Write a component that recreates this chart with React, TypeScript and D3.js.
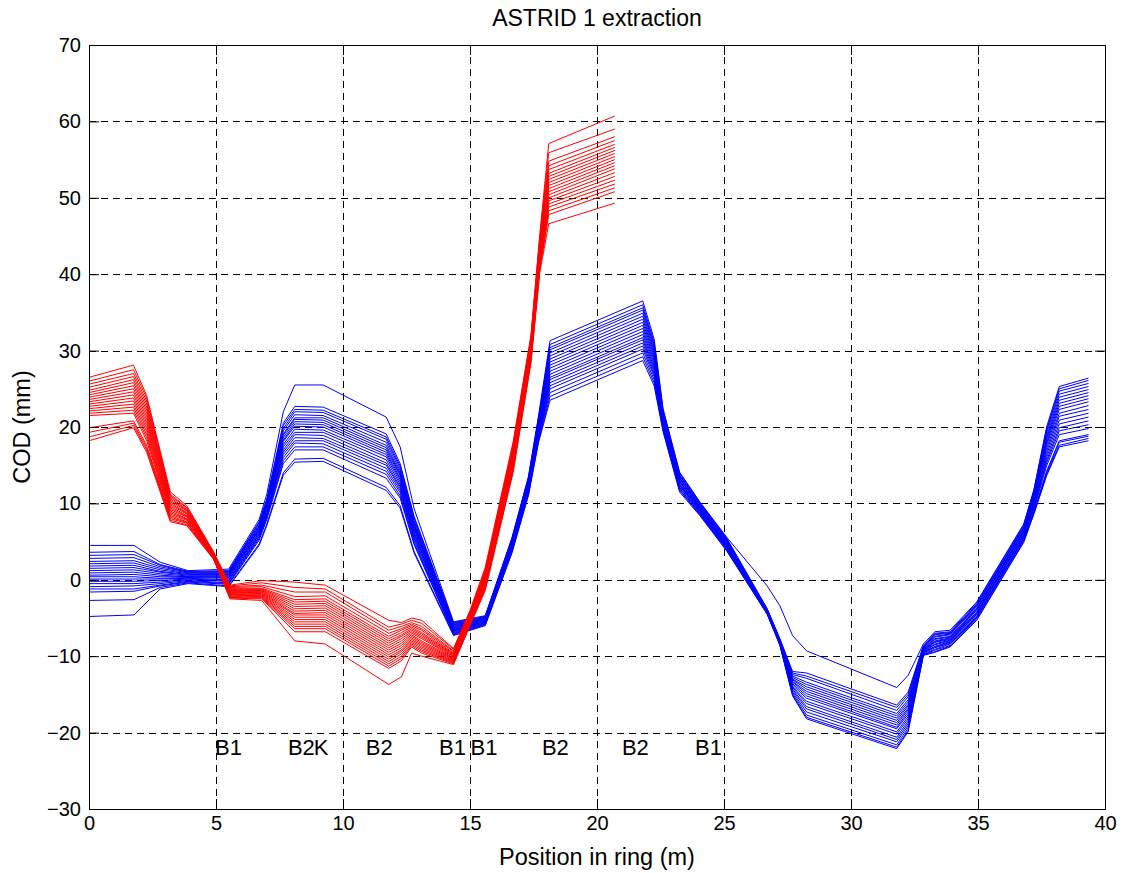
import React, { useRef, useEffect } from "react";
import * as d3 from "d3";

// positions (m) where the blue traces bend
const blueX = [0, 1.77, 2.8, 3.9, 5.5, 6.7, 7.0, 7.65, 8.1, 9.22, 11.7, 12.25, 12.8, 14.35, 15.6, 16.65, 17.3, 17.7, 18.15, 21.8, 22.25, 22.6, 23.25, 24.05, 25.1, 26.7, 27.2, 27.7, 28.25, 31.8, 32.25, 32.85, 33.3, 33.9, 34.95, 36.8, 37.2, 37.7, 38.2, 39.35];

// one row per position, one value per trace (COD in mm)
const blueCols = [
  [-4.8, -2.7, -1.6, -1.2, -0.9, -0.5, -0.2, 0.1, 0.4, 0.6, 0.9, 1.2, 1.5, 1.8, 2.1, 2.4, 2.8, 3.2, 3.6, 4.5],
  [-4.6, -2.6, -1.5, -1.2, -0.8, -0.5, -0.2, 0.1, 0.4, 0.7, 1.0, 1.3, 1.6, 1.9, 2.2, 2.5, 2.9, 3.3, 3.7, 4.5],
  [-1.2, -1.0, -0.8, -0.7, -0.5, -0.3, -0.1, 0.1, 0.2, 0.4, 0.6, 0.8, 1.0, 1.1, 1.3, 1.5, 1.7, 1.9, 2.0, 2.3],
  [-0.5, -0.4, -0.3, -0.2, -0.1, 0.0, 0.1, 0.2, 0.3, 0.4, 0.4, 0.5, 0.6, 0.7, 0.8, 0.9, 1.0, 1.0, 1.1, 1.2],
  [-0.9, -0.8, -0.6, -0.5, -0.4, -0.2, -0.1, 0.0, 0.2, 0.3, 0.4, 0.5, 0.6, 0.7, 0.8, 0.9, 1.0, 1.1, 1.2, 1.4],
  [4.5, 4.7, 5.2, 5.4, 5.6, 5.7, 5.9, 6.0, 6.2, 6.3, 6.5, 6.6, 6.7, 6.9, 7.0, 7.1, 7.3, 7.5, 7.6, 7.9],
  [7.1, 7.3, 7.9, 8.1, 8.3, 8.5, 8.6, 8.8, 9.0, 9.2, 9.3, 9.5, 9.6, 9.8, 9.9, 10.1, 10.3, 10.4, 10.6, 11.2],
  [13.7, 14.0, 15.2, 15.6, 16.0, 16.4, 16.7, 17.0, 17.4, 17.7, 18.1, 18.3, 18.6, 18.9, 19.1, 19.5, 19.8, 20.2, 20.5, 22.0],
  [15.4, 15.8, 17.0, 17.4, 17.9, 18.2, 18.6, 19.0, 19.3, 19.7, 20.1, 20.4, 20.7, 21.0, 21.2, 21.6, 22.0, 22.3, 22.7, 25.5],
  [15.5, 15.9, 17.0, 17.4, 17.8, 18.2, 18.5, 18.9, 19.3, 19.6, 20.0, 20.3, 20.6, 20.9, 21.2, 21.5, 21.9, 22.2, 22.6, 25.5],
  [11.7, 12.1, 13.3, 13.8, 14.2, 14.6, 15.0, 15.3, 15.7, 16.1, 16.4, 16.7, 17.0, 17.3, 17.6, 18.0, 18.4, 18.7, 19.1, 21.3],
  [9.4, 9.7, 10.7, 11.0, 11.4, 11.7, 12.0, 12.2, 12.5, 12.8, 13.1, 13.3, 13.6, 13.8, 14.0, 14.3, 14.6, 14.9, 15.2, 17.4],
  [3.5, 3.7, 4.6, 4.8, 5.1, 5.4, 5.6, 5.9, 6.1, 6.3, 6.6, 6.8, 7.0, 7.2, 7.3, 7.6, 7.8, 8.1, 8.3, 9.3],
  [-7.3, -7.2, -7.1, -7.0, -6.9, -6.8, -6.7, -6.6, -6.6, -6.5, -6.4, -6.3, -6.2, -6.1, -6.0, -5.9, -5.8, -5.7, -5.6, -5.5],
  [-6.0, -5.9, -5.8, -5.8, -5.7, -5.6, -5.6, -5.5, -5.4, -5.4, -5.3, -5.2, -5.2, -5.1, -5.0, -5.0, -4.9, -4.8, -4.8, -4.7],
  [3.5, 3.6, 3.8, 3.9, 4.0, 4.1, 4.2, 4.3, 4.4, 4.5, 4.6, 4.7, 4.8, 4.9, 5.0, 5.1, 5.2, 5.3, 5.4, 5.5],
  [11.0, 11.2, 11.3, 11.5, 11.6, 11.7, 11.9, 12.0, 12.1, 12.2, 12.4, 12.5, 12.6, 12.7, 12.9, 13.0, 13.1, 13.2, 13.4, 13.5],
  [18.0, 18.2, 18.5, 18.7, 18.8, 19.0, 19.2, 19.4, 19.5, 19.7, 19.9, 20.1, 20.2, 20.4, 20.6, 20.8, 20.9, 21.1, 21.3, 21.5],
  [23.5, 24.0, 24.5, 25.0, 25.4, 25.8, 26.2, 26.5, 26.9, 27.3, 27.7, 28.1, 28.5, 28.9, 29.3, 29.7, 30.1, 30.4, 30.8, 31.3],
  [28.7, 29.2, 29.7, 30.2, 30.6, 31.0, 31.4, 31.7, 32.1, 32.5, 32.9, 33.3, 33.7, 34.1, 34.5, 34.9, 35.3, 35.6, 36.0, 36.5],
  [25.4, 25.8, 26.2, 26.6, 26.9, 27.2, 27.5, 27.8, 28.1, 28.4, 28.7, 29.0, 29.3, 29.6, 29.9, 30.2, 30.5, 30.8, 31.1, 31.5],
  [19.4, 19.6, 19.8, 20.0, 20.1, 20.3, 20.4, 20.6, 20.7, 20.9, 21.0, 21.2, 21.3, 21.5, 21.6, 21.8, 21.9, 22.1, 22.2, 22.4],
  [11.5, 11.7, 11.8, 12.0, 12.1, 12.3, 12.4, 12.5, 12.6, 12.8, 12.9, 13.0, 13.2, 13.3, 13.4, 13.6, 13.7, 13.8, 14.0, 14.1],
  [8.4, 8.5, 8.6, 8.7, 8.8, 8.9, 9.0, 9.1, 9.2, 9.3, 9.3, 9.4, 9.5, 9.6, 9.7, 9.8, 9.9, 10.0, 10.1, 10.2],
  [3.8, 3.9, 4.0, 4.1, 4.2, 4.3, 4.4, 4.5, 4.5, 4.6, 4.7, 4.8, 4.9, 5.0, 5.1, 5.2, 5.3, 5.4, 5.5, 5.6],
  [-4.5, -4.5, -4.4, -4.4, -4.3, -4.3, -4.3, -4.2, -4.2, -4.2, -4.1, -4.1, -4.1, -4.0, -4.0, -3.9, -3.9, -3.8, -3.8, -0.8],
  [-8.6, -8.5, -8.5, -8.4, -8.4, -8.3, -8.3, -8.2, -8.2, -8.2, -8.1, -8.1, -8.0, -8.0, -7.9, -7.9, -7.8, -7.8, -7.7, -3.4],
  [-15.2, -15.1, -14.9, -14.7, -14.5, -14.3, -14.1, -14.0, -13.8, -13.6, -13.4, -13.3, -13.1, -13.0, -12.8, -12.6, -12.4, -12.2, -12.0, -7.3],
  [-18.2, -18.0, -17.7, -17.3, -16.9, -16.6, -16.2, -15.9, -15.5, -15.2, -14.9, -14.6, -14.3, -14.0, -13.7, -13.4, -12.9, -12.6, -12.2, -9.3],
  [-22.1, -21.9, -21.6, -21.2, -20.9, -20.6, -20.2, -19.9, -19.5, -19.3, -19.0, -18.7, -18.4, -18.1, -17.8, -17.5, -17.1, -16.7, -16.4, -14.1],
  [-19.9, -19.7, -19.4, -19.1, -18.8, -18.5, -18.2, -17.9, -17.6, -17.3, -17.0, -16.8, -16.5, -16.3, -16.0, -15.7, -15.3, -15.0, -14.7, -12.5],
  [-9.9, -9.8, -9.8, -9.7, -9.6, -9.5, -9.5, -9.4, -9.3, -9.3, -9.2, -9.1, -9.1, -9.0, -8.9, -8.9, -8.8, -8.7, -8.6, -8.4],
  [-9.5, -9.4, -9.2, -9.1, -8.9, -8.8, -8.7, -8.5, -8.4, -8.2, -8.1, -8.0, -7.8, -7.7, -7.5, -7.4, -7.2, -7.1, -7.0, -6.8],
  [-8.8, -8.7, -8.6, -8.4, -8.3, -8.2, -8.1, -8.0, -7.9, -7.8, -7.7, -7.6, -7.5, -7.4, -7.2, -7.1, -7.0, -6.9, -6.8, -6.6],
  [-5.3, -5.2, -5.0, -4.9, -4.8, -4.7, -4.5, -4.4, -4.3, -4.2, -4.0, -3.9, -3.8, -3.7, -3.5, -3.4, -3.3, -3.2, -3.0, -2.9],
  [4.9, 5.0, 5.2, 5.3, 5.4, 5.5, 5.7, 5.8, 5.9, 6.0, 6.2, 6.3, 6.4, 6.5, 6.7, 6.8, 6.9, 7.0, 7.2, 7.3],
  [8.6, 8.7, 8.8, 8.9, 9.2, 9.4, 9.6, 9.8, 10.0, 10.2, 10.4, 10.6, 10.7, 10.9, 11.1, 11.2, 11.4, 11.5, 11.7, 11.8],
  [13.6, 13.8, 14.0, 14.2, 14.9, 15.3, 15.6, 16.0, 16.4, 16.8, 17.2, 17.6, 17.9, 18.2, 18.5, 18.8, 19.2, 19.5, 19.7, 20.0],
  [17.4, 17.6, 18.0, 18.2, 19.0, 19.5, 19.9, 20.4, 20.9, 21.4, 21.8, 22.3, 22.7, 23.1, 23.5, 23.9, 24.3, 24.7, 25.0, 25.3],
  [18.2, 18.5, 18.8, 19.0, 19.8, 20.3, 20.8, 21.3, 21.8, 22.3, 22.8, 23.3, 23.7, 24.1, 24.5, 24.9, 25.3, 25.7, 26.1, 26.4],
];

// positions (m) where the red (extracted) traces bend
const redX = [0, 1.75, 2.27, 3.2, 3.85, 4.9, 5.55, 6.8, 8.1, 9.3, 11.8, 12.3, 12.7, 13.1, 14.35, 15.0, 15.6, 16.7, 17.4, 17.75, 18.1, 20.7];

const redCols = [
  [18.2, 18.7, 19.3, 19.9, 21.5, 21.8, 22.1, 22.4, 22.7, 23.0, 23.3, 23.6, 23.9, 24.2, 24.5, 24.8, 25.2, 25.6, 26.0, 26.5],
  [19.9, 20.2, 20.5, 20.8, 21.8, 22.2, 22.6, 23.0, 23.4, 23.8, 24.2, 24.6, 25.0, 25.4, 25.8, 26.2, 26.6, 27.0, 27.5, 28.1],
  [16.7, 17.0, 17.3, 17.6, 18.2, 18.6, 19.0, 19.4, 19.8, 20.2, 20.6, 21.0, 21.4, 21.8, 22.2, 22.6, 23.0, 23.4, 23.8, 24.1],
  [7.6, 7.8, 8.0, 8.2, 8.4, 8.6, 8.8, 9.0, 9.2, 9.4, 9.6, 9.8, 10.0, 10.2, 10.4, 10.6, 10.8, 11.0, 11.2, 11.5],
  [7.1, 7.2, 7.4, 7.5, 7.6, 7.8, 7.9, 8.0, 8.2, 8.3, 8.4, 8.6, 8.7, 8.8, 9.0, 9.1, 9.2, 9.4, 9.5, 9.7],
  [2.7, 2.8, 2.8, 2.9, 2.9, 3.0, 3.0, 3.1, 3.1, 3.2, 3.2, 3.3, 3.3, 3.4, 3.4, 3.5, 3.5, 3.6, 3.6, 3.7],
  [-2.5, -2.4, -2.3, -2.2, -2.1, -2.0, -1.9, -1.8, -1.7, -1.6, -1.6, -1.5, -1.4, -1.3, -1.2, -1.1, -1.0, -0.9, -0.8, -0.7],
  [-2.7, -2.5, -2.4, -2.3, -2.2, -2.1, -2.0, -1.9, -1.8, -1.7, -1.6, -1.5, -1.4, -1.3, -1.2, -1.1, -0.9, -0.7, -0.4, -0.1],
  [-8.0, -6.8, -6.4, -6.1, -5.8, -5.5, -5.2, -4.9, -4.6, -4.4, -4.1, -3.8, -3.5, -3.2, -2.9, -2.6, -2.2, -1.6, -1.0, -0.3],
  [-8.4, -6.8, -6.4, -6.1, -5.8, -5.5, -5.2, -4.9, -4.6, -4.3, -4.0, -3.7, -3.4, -3.1, -2.8, -2.5, -2.1, -1.6, -1.2, -0.7],
  [-13.7, -11.6, -11.3, -11.0, -10.7, -10.4, -10.1, -9.8, -9.5, -9.2, -8.9, -8.6, -8.3, -8.0, -7.7, -7.4, -7.0, -6.6, -6.2, -5.3],
  [-12.7, -10.6, -10.3, -10.0, -9.7, -9.4, -9.2, -8.9, -8.6, -8.3, -8.0, -7.7, -7.4, -7.2, -6.9, -6.6, -6.4, -6.1, -5.8, -5.6],
  [-9.6, -8.8, -8.6, -8.4, -8.2, -8.0, -7.8, -7.6, -7.4, -7.2, -7.0, -6.8, -6.6, -6.4, -6.2, -6.0, -5.8, -5.6, -5.3, -5.0],
  [-10.0, -9.6, -9.4, -9.2, -9.0, -8.8, -8.6, -8.4, -8.2, -8.0, -7.7, -7.5, -7.3, -7.1, -6.9, -6.6, -6.4, -6.1, -5.7, -5.3],
  [-11.1, -11.0, -10.9, -10.8, -10.7, -10.6, -10.5, -10.4, -10.3, -10.2, -10.1, -10.0, -9.9, -9.8, -9.7, -9.6, -9.4, -9.3, -9.1, -9.0],
  [-6.0, -5.9, -5.8, -5.7, -5.6, -5.5, -5.4, -5.3, -5.2, -5.1, -5.0, -4.9, -4.8, -4.7, -4.6, -4.5, -4.4, -4.3, -4.2, -4.0],
  [-1.4, -1.2, -1.1, -0.9, -0.8, -0.6, -0.5, -0.3, -0.2, 0.0, 0.1, 0.3, 0.4, 0.6, 0.7, 0.9, 1.0, 1.2, 1.4, 1.6],
  [14.1, 14.3, 14.5, 14.7, 14.9, 15.1, 15.3, 15.5, 15.7, 15.9, 16.1, 16.3, 16.5, 16.7, 16.9, 17.1, 17.3, 17.5, 17.8, 18.1],
  [28.4, 28.6, 28.8, 29.0, 29.2, 29.4, 29.5, 29.7, 29.9, 30.1, 30.3, 30.5, 30.6, 30.8, 31.0, 31.2, 31.4, 31.6, 31.8, 32.0],
  [40.3, 40.6, 40.8, 41.1, 41.3, 41.6, 41.8, 42.1, 42.3, 42.6, 42.8, 43.1, 43.3, 43.6, 43.8, 44.1, 44.3, 44.6, 44.9, 45.3],
  [46.6, 47.8, 48.3, 48.8, 49.2, 49.6, 50.0, 50.4, 50.8, 51.2, 51.6, 52.0, 52.4, 52.8, 53.2, 53.7, 54.2, 54.8, 55.9, 57.1],
  [49.3, 50.8, 51.3, 51.8, 52.3, 52.8, 53.3, 53.8, 54.2, 54.6, 55.0, 55.4, 55.8, 56.2, 56.6, 57.0, 57.5, 58.0, 59.0, 60.7],
];

const xTicks = [0, 5, 10, 15, 20, 25, 30, 35, 40];
const yTicks = [-30, -20, -10, 0, 10, 20, 30, 40, 50, 60, 70];

// magnet labels along the ring
const magnetNames = ["B1", "B2", "K", "B2", "B1", "B1", "B2", "B2", "B1"];
const magnetX = [4.96, 7.83, 8.85, 10.9, 13.78, 15.02, 17.83, 20.98, 23.86];
const magnetY = -22;

const FONT = "'Liberation Sans', Arial, sans-serif";

const App = () => {
  const svgRef = useRef<SVGSVGElement>(null);

  useEffect(() => {
    const svg = d3.select(svgRef.current);
    svg.selectAll("*").remove();

    const width = 1124;
    const height = 873;
    const margin = { top: 45, left: 89, bottom: 64, right: 19 };
    const iwidth = width - margin.left - margin.right;
    const iheight = height - margin.top - margin.bottom;

    const x = d3.scaleLinear().domain([0, 40]).range([margin.left, width - margin.right]);
    const y = d3.scaleLinear().domain([-30, 70]).range([height - margin.bottom, margin.top]);

    svg.append("rect").attr("width", width).attr("height", height).attr("fill", "#fff");

    // dashed grid
    const grid = svg.append("g").attr("stroke", "#000").attr("stroke-width", 1).attr("stroke-dasharray", "7,5");
    grid
      .selectAll("line.gx")
      .data(xTicks.slice(1, -1))
      .enter()
      .append("line")
      .attr("class", "gx")
      .attr("x1", (d) => Math.round(x(d)) + 0.5)
      .attr("x2", (d) => Math.round(x(d)) + 0.5)
      .attr("y1", margin.top)
      .attr("y2", margin.top + iheight);
    grid
      .selectAll("line.gy")
      .data(yTicks.slice(1, -1))
      .enter()
      .append("line")
      .attr("class", "gy")
      .attr("x1", margin.left)
      .attr("x2", margin.left + iwidth)
      .attr("y1", (d) => Math.round(y(d)) + 0.5)
      .attr("y2", (d) => Math.round(y(d)) + 0.5);

    const line = d3
      .line<[number, number]>()
      .x((d) => x(d[0]))
      .y((d) => y(d[1]));

    const toTraces = (xs: number[], cols: number[][]) =>
      d3.range(cols[0].length).map((k) => xs.map((xv, i) => [xv, cols[i][k]] as [number, number]));

    svg
      .append("g")
      .selectAll("path")
      .data(toTraces(blueX, blueCols))
      .enter()
      .append("path")
      .attr("d", line)
      .attr("fill", "none")
      .attr("stroke", "#0000ff")
      .attr("stroke-width", 1);

    svg
      .append("g")
      .selectAll("path")
      .data(toTraces(redX, redCols))
      .enter()
      .append("path")
      .attr("d", line)
      .attr("fill", "none")
      .attr("stroke", "#ff0000")
      .attr("stroke-width", 1);

    // axes with inward ticks on all four sides
    const styleAxis = (g: any) => {
      g.select(".domain").remove();
      g.selectAll("line").attr("stroke", "#000");
      g.selectAll("text").attr("font-family", FONT).attr("font-size", 20).attr("fill", "#000");
    };

    svg
      .append("g")
      .attr("transform", `translate(0,${height - margin.bottom})`)
      .call(d3.axisBottom(x).tickValues(xTicks).tickSize(-10).tickPadding(7).tickFormat(d3.format("d")))
      .call(styleAxis);
    svg
      .append("g")
      .attr("transform", `translate(0,${margin.top})`)
      .call(d3.axisTop(x).tickValues(xTicks).tickSize(-10).tickFormat(() => ""))
      .call(styleAxis);
    svg
      .append("g")
      .attr("transform", `translate(${margin.left},0)`)
      .call(d3.axisLeft(y).tickValues(yTicks).tickSize(-10).tickPadding(8).tickFormat(d3.format("d")))
      .call(styleAxis);
    svg
      .append("g")
      .attr("transform", `translate(${width - margin.right},0)`)
      .call(d3.axisRight(y).tickValues(yTicks).tickSize(-10).tickFormat(() => ""))
      .call(styleAxis);

    svg
      .append("rect")
      .attr("x", margin.left + 0.5)
      .attr("y", margin.top + 0.5)
      .attr("width", iwidth)
      .attr("height", iheight)
      .attr("fill", "none")
      .attr("stroke", "#000")
      .attr("stroke-width", 1);

    // magnet labels
    svg
      .append("g")
      .selectAll("text")
      .data(magnetNames)
      .enter()
      .append("text")
      .attr("x", (d, i) => x(magnetX[i]))
      .attr("y", y(magnetY))
      .attr("dominant-baseline", "central")
      .attr("font-family", FONT)
      .attr("font-size", 22)
      .text((d) => d);

    svg
      .append("text")
      .attr("x", margin.left + iwidth / 2)
      .attr("y", 18)
      .attr("text-anchor", "middle")
      .attr("dominant-baseline", "central")
      .attr("font-family", FONT)
      .attr("font-size", 23)
      .text("ASTRID 1 extraction");

    svg
      .append("text")
      .attr("x", margin.left + iwidth / 2)
      .attr("y", 857)
      .attr("text-anchor", "middle")
      .attr("dominant-baseline", "central")
      .attr("font-family", FONT)
      .attr("font-size", 23.5)
      .text("Position in ring (m)");

    svg
      .append("text")
      .attr("transform", `translate(22,${margin.top + iheight / 2}) rotate(-90)`)
      .attr("text-anchor", "middle")
      .attr("dominant-baseline", "central")
      .attr("font-family", FONT)
      .attr("font-size", 23.5)
      .text("COD (mm)");
  }, []);

  return (
    <svg
      ref={svgRef}
      width={1124}
      height={873}
      style={{ position: "absolute", left: 0, top: 0, display: "block" }}
    />
  );
};

export default App;
